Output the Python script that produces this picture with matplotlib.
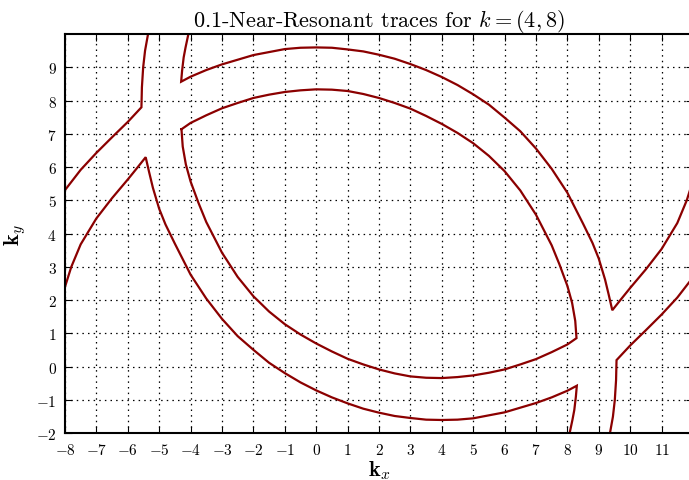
import matplotlib
matplotlib.use("Agg")
import matplotlib.pyplot as plt
import numpy as np

plt.rcParams['font.family'] = 'serif'
plt.rcParams['font.serif'] = ['cmr10']
plt.rcParams['mathtext.fontset'] = 'cm'
plt.rcParams['axes.formatter.use_mathtext'] = True

# traced contour branches, (kx, ky) pairs in order along each branch

# top edge -> cusp near (-5.6, 7.8) -> left edge
upper_left_x = [-5.355, -5.45, -5.51, -5.55, -5.565, -6.0, -6.5, -7.0, -7.5, -8.0]
upper_left_y = [10.0, 9.5, 9.0, 8.4, 7.80, 7.36, 6.90, 6.43, 5.92, 5.31]

# top edge -> cusp -> outer arc -> cusp near (9.4, 1.7) -> right edge
outer_top_x = [-4.07, -4.16, -4.22, -4.27, -4.30, -4.0, -3.5, -3.0, -2.5, -2.0, -1.5,
               -1.0, -0.5, 0.0, 0.5, 1.0, 1.5, 2.0, 2.5, 3.0, 3.5, 4.0, 4.5, 5.0, 5.5,
               6.0, 6.5, 7.0, 7.5, 8.0, 8.5, 8.8, 9.0, 9.2, 9.32, 9.43, 9.7, 10.0,
               10.5, 11.0, 11.5, 11.8, 12.0]
outer_top_y = [10.0, 9.6, 9.3, 8.9, 8.57, 8.72, 8.92, 9.09, 9.23, 9.37, 9.46,
               9.55, 9.59, 9.60, 9.59, 9.54, 9.48, 9.38, 9.26, 9.10, 8.92, 8.71, 8.47, 8.19, 7.88,
               7.49, 7.08, 6.56, 5.95, 5.23, 4.30, 3.72, 3.25, 2.62, 2.15, 1.70, 2.02, 2.37,
               2.93, 3.54, 4.32, 5.0, 5.6]

# closed inner trace with two cusps
inner_x = [-4.29, -4.0, -3.5, -3.0, -2.5, -2.0, -1.5, -1.0, -0.5, 0.0, 0.5, 1.0, 1.5,
           2.0, 2.5, 3.0, 3.5, 4.0, 4.5, 5.0, 5.5, 6.0, 6.5, 7.0, 7.5, 7.75, 8.0, 8.15,
           8.25, 8.29,
           8.0, 7.5, 7.0, 6.5, 6.0, 5.5, 5.0, 4.5, 4.0, 3.5, 3.0, 2.5, 2.0, 1.5, 1.0,
           0.5, 0.0, -0.5, -1.0, -1.5, -2.0, -2.5, -3.0, -3.5, -3.75, -4.0, -4.15,
           -4.25, -4.29]
inner_y = [7.14, 7.33, 7.56, 7.77, 7.93, 8.08, 8.18, 8.26, 8.31, 8.34, 8.33, 8.29, 8.20,
           8.08, 7.93, 7.76, 7.54, 7.30, 7.03, 6.72, 6.34, 5.88, 5.30, 4.57, 3.65, 3.07,
           2.43, 1.92, 1.38, 0.86,
           0.67, 0.44, 0.23, 0.07, -0.08, -0.18, -0.26, -0.31, -0.34, -0.33, -0.29,
           -0.20, -0.08, 0.07, 0.24, 0.46, 0.70, 0.97, 1.28, 1.66, 2.12, 2.70, 3.43,
           4.35, 4.93, 5.57, 6.08, 6.62, 7.14]

# left edge -> cusp near (-5.4, 6.3) -> lower outer arc -> cusp -> bottom edge
outer_low_x = [-8.0, -7.8, -7.5, -7.0, -6.5, -6.0, -5.7, -5.43, -5.32, -5.2, -5.0,
               -4.8, -4.5, -4.0, -3.5, -3.0, -2.5, -2.0, -1.5, -1.0, -0.5, 0.0, 0.5,
               1.0, 1.5, 2.0, 2.5, 3.0, 3.5, 4.0, 4.5, 5.0, 5.5, 6.0, 6.5, 7.0, 7.5,
               8.0, 8.30, 8.27, 8.22, 8.16, 8.07]
outer_low_y = [2.4, 3.0, 3.68, 4.46, 5.07, 5.63, 5.98, 6.30, 5.85, 5.38, 4.75,
               4.28, 3.70, 2.77, 2.05, 1.44, 0.92, 0.51, 0.12, -0.19, -0.47, -0.71, -0.92,
               -1.10, -1.26, -1.38, -1.48, -1.54, -1.59, -1.60, -1.59, -1.55, -1.46, -1.37,
               -1.23, -1.09, -0.92, -0.72, -0.57, -0.9, -1.3, -1.6, -2.0]

# bottom edge -> cusp near (9.6, 0.2) -> right edge
lower_right_x = [9.355, 9.45, 9.51, 9.55, 9.565, 10.0, 10.5, 11.0, 11.5, 12.0]
lower_right_y = [-2.0, -1.5, -1.0, -0.4, 0.20, 0.64, 1.10, 1.57, 2.08, 2.69]

branches = [(upper_left_x, upper_left_y), (outer_top_x, outer_top_y),
            (inner_x, inner_y), (outer_low_x, outer_low_y),
            (lower_right_x, lower_right_y)]

fig = plt.figure(figsize=(6.89, 4.81), dpi=100)
ax = fig.add_axes([0.0943, 0.0971, 0.9115, 0.8299])

for bx, by in branches:
    ax.plot(bx, by, color='#8b0000', linewidth=1.6, solid_joinstyle='miter')

ax.set_xlim(-8, 12)
ax.set_ylim(-2, 10)
ax.set_xticks(np.arange(-8, 12))
ax.set_yticks(np.arange(-2, 10))
ax.tick_params(direction='in', top=True, right=True, length=5, width=0.8, labelsize=11, pad=6)
ax.grid(True, color='k', linestyle=(0, (1.2, 3.3)), linewidth=0.9)
for s in ax.spines.values():
    s.set_linewidth(1.5)

ax.set_title(r'0.1-Near-Resonant traces for $k=(4,8)$', fontsize=16)
ax.set_xlabel(r'$\mathbf{k}_x$', fontsize=16, labelpad=1)
ax.set_ylabel(r'$\mathbf{k}_y$', fontsize=16, labelpad=6)

fig.savefig('out.png', dpi=100)
